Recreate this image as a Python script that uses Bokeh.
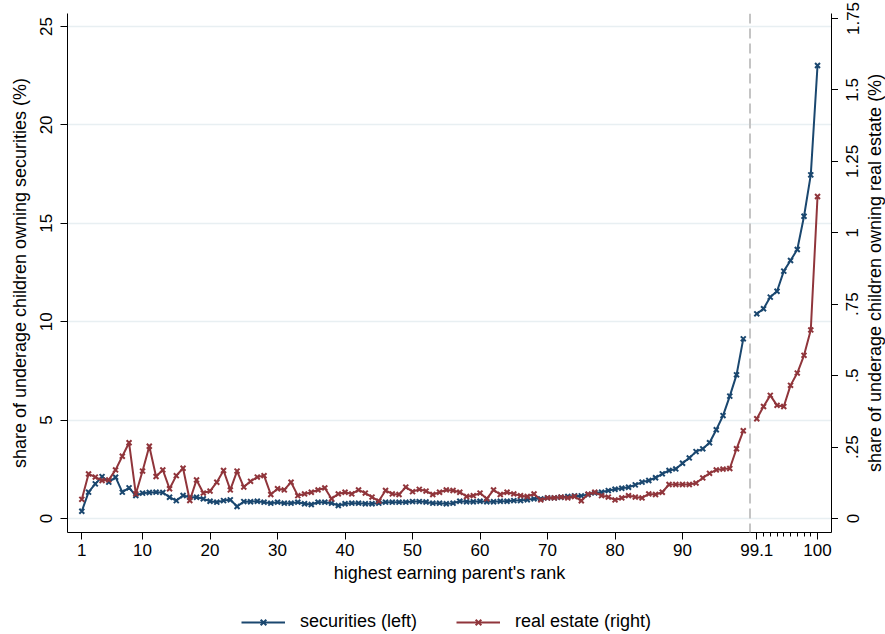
import math

from bokeh.plotting import figure
from bokeh.layouts import column, row
from bokeh.models import (Range1d, LinearAxis, FixedTicker, Span, Legend,
                          LegendItem)
from bokeh.embed import file_html
from bokeh.resources import INLINE

# Parent income ranks 1..99, then the top percentile split into ten bins
ranks = list(range(1, 100))
top_bins = [99.1, 99.2, 99.3, 99.4, 99.5, 99.6, 99.7, 99.8, 99.9, 100.0]

# Share of underage children owning securities (%), left axis
securities_low = [
    0.37, 1.34, 1.76, 2.13, 1.85, 2.10, 1.34, 1.56, 1.17, 1.29,
    1.32, 1.34, 1.32, 1.08, 0.91, 1.17, 1.08, 1.08, 1.00, 0.88,
    0.83, 0.91, 0.95, 0.61, 0.86, 0.85, 0.88, 0.83, 0.78, 0.83,
    0.78, 0.78, 0.83, 0.75, 0.71, 0.83, 0.83, 0.78, 0.66, 0.75,
    0.78, 0.78, 0.75, 0.75, 0.78, 0.83, 0.83, 0.83, 0.83, 0.86,
    0.86, 0.84, 0.78, 0.78, 0.75, 0.78, 0.88, 0.85, 0.85, 0.88,
    0.85, 0.85, 0.88, 0.88, 0.91, 0.91, 0.95, 1.00, 1.00, 1.05,
    1.05, 1.08, 1.12, 1.15, 1.15, 1.22, 1.30, 1.34, 1.42, 1.49,
    1.54, 1.59, 1.71, 1.85, 1.93, 2.07, 2.27, 2.44, 2.52, 2.81,
    3.08, 3.40, 3.54, 3.85, 4.51, 5.23, 6.22, 7.30, 9.13,
]
securities_top = [10.40, 10.66, 11.25, 11.55, 12.57, 13.11, 13.67, 15.36, 17.46, 23.02]

# Share of underage children owning real estate (%), right axis
realestate_low = [
    0.067, 0.156, 0.145, 0.133, 0.135, 0.170, 0.218, 0.265, 0.086, 0.166,
    0.253, 0.147, 0.170, 0.104, 0.150, 0.176, 0.063, 0.135, 0.089, 0.096,
    0.127, 0.168, 0.100, 0.166, 0.110, 0.130, 0.145, 0.150, 0.084, 0.104,
    0.100, 0.127, 0.080, 0.086, 0.092, 0.100, 0.107, 0.069, 0.086, 0.092,
    0.086, 0.100, 0.089, 0.075, 0.061, 0.098, 0.086, 0.084, 0.110, 0.094,
    0.102, 0.096, 0.084, 0.092, 0.100, 0.098, 0.092, 0.077, 0.080, 0.089,
    0.069, 0.100, 0.084, 0.092, 0.086, 0.080, 0.077, 0.086, 0.065, 0.072,
    0.072, 0.075, 0.072, 0.077, 0.062, 0.085, 0.092, 0.080, 0.075, 0.065,
    0.072, 0.080, 0.075, 0.072, 0.086, 0.084, 0.092, 0.119, 0.119, 0.119,
    0.119, 0.124, 0.142, 0.158, 0.170, 0.173, 0.175, 0.244, 0.307,
]
realestate_top = [0.349, 0.392, 0.431, 0.396, 0.392, 0.466, 0.509, 0.571, 0.660, 1.127]

left_ticks = [0, 5, 10, 15, 20, 25]
right_ticks = [0, 0.25, 0.5, 0.75, 1.0, 1.25, 1.5, 1.75]
right_tick_labels = ["0", ".25", ".5", ".75", "1", "1.25", "1.5", "1.75"]
x_tick_values = [1, 10, 20, 30, 40, 50, 60, 70, 80, 90, 99.1, 100.0]
x_tick_labels = ["1", "10", "20", "30", "40", "50", "60", "70", "80", "90", "99.1", "100"]

series_labels = ["securities (left)", "real estate (right)"]


# Top-percentile bins get their own stretch of the axis after a break at 100
def to_pos(v):
    if v <= 99:
        return v
    return 100 + round((v - 99) * 10)


top_pos = [to_pos(b) for b in top_bins]
break_pos = 100

NAVY = "#1a476f"
MAROON = "#90353b"
FONT = "Liberation Sans"

MAIN_H = 600        # height of the chart row; the legend strip sits below
TOP, BOTTOM = 13, 68
RE_START, RE_END = -0.049, 1.7675

p = figure(width=838, height=MAIN_H, output_backend="svg", toolbar_location=None,
           x_range=Range1d(-1.12, 112.07), y_range=Range1d(-0.71, 25.66),
           min_border_left=67, min_border_right=7, min_border_top=TOP,
           min_border_bottom=BOTTOM)
p.outline_line_color = None
p.extra_y_ranges = {"re": Range1d(RE_START, RE_END)}

p.xgrid.visible = False
p.ygrid.ticker = FixedTicker(ticks=left_ticks)
p.ygrid.grid_line_color = "#e8eff2"
p.ygrid.grid_line_width = 1.5


def style_axis(ax):
    ax.axis_line_color = "black"
    ax.axis_line_width = 1
    ax.major_tick_line_color = "black"
    ax.minor_tick_line_color = "black"
    ax.major_tick_out = 7
    ax.major_tick_in = 0
    ax.minor_tick_out = 4
    ax.minor_tick_in = 0
    ax.major_label_text_font = FONT
    ax.major_label_text_font_size = "17px"
    ax.major_label_text_color = "black"
    ax.axis_label_text_font = FONT
    ax.axis_label_text_font_size = "18px"
    ax.axis_label_text_font_style = "normal"
    ax.axis_label_text_color = "black"


# Bottom axis
xax = p.xaxis[0]
style_axis(xax)
xpos = [to_pos(v) for v in x_tick_values]
xax.ticker = FixedTicker(ticks=xpos,
                         minor_ticks=[to_pos(b) for b in top_bins[1:-1]])
xax.major_label_overrides = {pos: lab for pos, lab in zip(xpos, x_tick_labels)}
xax.axis_label = "highest earning parent's rank"
xax.major_label_standoff = 4
xax.axis_label_standoff = 4

# Left axis
yax = p.yaxis[0]
style_axis(yax)
yax.ticker = FixedTicker(ticks=left_ticks)
yax.major_label_orientation = "vertical"
yax.axis_label = "share of underage children owning securities (%)"
yax.major_label_standoff = 8
yax.axis_label_standoff = 8

# Right axis line and ticks (full-length tick marks, no texts here);
# its labels and title live in the strip to the right
rax = LinearAxis(y_range_name="re",
                 ticker=FixedTicker(ticks=[], minor_ticks=right_ticks))
style_axis(rax)
rax.minor_tick_out = 7
rax.major_label_standoff = 0
p.add_layout(rax, "right")

# Break between rank 99 and the top percentile
p.add_layout(Span(location=break_pos, dimension="height", line_color="#c4c4c4",
                  line_width=2, line_dash="10 5"))

# Securities
p.line(ranks, securities_low, color=NAVY, line_width=2)
p.scatter(ranks, securities_low, marker="x", size=7, line_width=2, color=NAVY)
p.line(top_pos, securities_top, color=NAVY, line_width=2)
p.scatter(top_pos, securities_top, marker="x", size=7, line_width=2, color=NAVY)

# Real estate
p.line(ranks, realestate_low, color=MAROON, line_width=2, y_range_name="re")
p.scatter(ranks, realestate_low, marker="x", size=7, line_width=2,
          color=MAROON, y_range_name="re")
p.line(top_pos, realestate_top, color=MAROON, line_width=2, y_range_name="re")
p.scatter(top_pos, realestate_top, marker="x", size=7, line_width=2,
          color=MAROON, y_range_name="re")

# Right-hand strip: tick labels and title for the real-estate scale,
# drawn as left-side axes so the text reads bottom to top
rf = figure(width=47, height=MAIN_H, output_backend="svg", toolbar_location=None,
            x_range=Range1d(0, 1), y_range=Range1d(RE_START, RE_END),
            x_axis_location=None, y_axis_location=None,
            min_border_left=46, min_border_right=0, min_border_top=TOP,
            min_border_bottom=BOTTOM)
rf.outline_line_color = None
rf.grid.visible = False

title_ax = LinearAxis(ticker=FixedTicker(ticks=[]))
style_axis(title_ax)
title_ax.axis_line_color = None
title_ax.major_tick_line_color = None
title_ax.major_tick_out = 0
title_ax.axis_label = "share of underage children owning real estate (%)"
title_ax.axis_label_standoff = 0
rf.add_layout(title_ax, "left")

label_ax = LinearAxis(ticker=FixedTicker(ticks=right_ticks))
style_axis(label_ax)
label_ax.axis_line_color = None
label_ax.major_tick_line_color = None
label_ax.major_tick_out = 0
label_ax.major_label_orientation = "vertical"
label_ax.major_label_overrides = {t: lab for t, lab in zip(right_ticks, right_tick_labels)}
label_ax.major_label_standoff = 3
rf.add_layout(label_ax, "left")

# Legend strip under the chart; its renderers hold no visible points and
# only supply the legend swatches
lf = figure(width=885, height=634 - MAIN_H, output_backend="svg",
            toolbar_location=None, x_range=Range1d(0, 1), y_range=Range1d(0, 1),
            x_axis_location=None, y_axis_location=None, min_border=0)
lf.outline_line_color = None
lf.grid.visible = False
items = []
for lab, col in zip(series_labels, [NAVY, MAROON]):
    ln = lf.line(x=[math.nan], y=[math.nan], color=col, line_width=2)
    mk = lf.scatter(x=[math.nan], y=[math.nan], marker="x", size=7,
                    line_width=2, color=col)
    items.append(LegendItem(label=lab, renderers=[ln, mk]))
legend = Legend(items=items, orientation="horizontal", location=(241, 2),
                label_text_font=FONT, label_text_font_size="18px",
                label_text_color="black", glyph_width=44, glyph_height=20,
                label_standoff=15, spacing=39, padding=4, margin=0,
                border_line_color=None, background_fill_alpha=0)
lf.add_layout(legend)

layout = column(row(p, rf), lf)
open("out.html", "w").write(file_html(layout, INLINE))
